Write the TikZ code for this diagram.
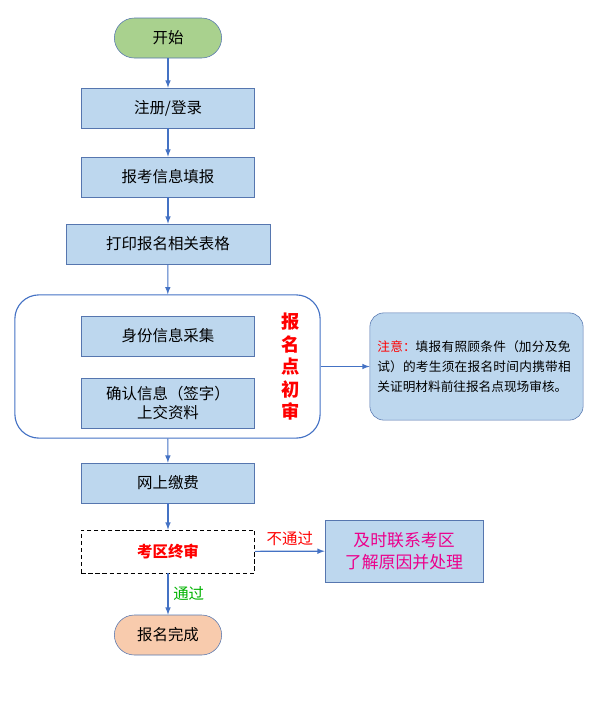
\documentclass[tikz,border=0pt]{standalone}
\usepackage{fontspec}
\setmainfont{Noto Sans CJK SC}
\XeTeXlinebreaklocale "zh"
\XeTeXlinebreakskip=0pt plus 1pt
\usetikzlibrary{positioning,arrows}
\definecolor{boxblue}{HTML}{BDD7EE}
\definecolor{lineblue}{HTML}{4472C4}
\definecolor{startgreen}{HTML}{A9D18E}
\definecolor{endorange}{HTML}{F8CBAD}
\tikzset{
  stepbox/.style={rectangle, draw=lineblue!70!gray, fill=boxblue,
    minimum width=4.33cm, minimum height=1cm, align=center, font=\fontsize{11}{13}\selectfont},
  pill/.style={rectangle, rounded corners=0.5cm, draw=lineblue!70!gray,
    minimum width=2.68cm, minimum height=1cm, font=\fontsize{11}{13}\selectfont},
  line/.style={draw=lineblue, thick, -latex},
}
\begin{document}
\begin{tikzpicture}[x=0.025cm,y=-0.025cm]
\useasboundingbox (0,0) rectangle (602,706);
% frame of the first check
\node[draw=lineblue, thick, rounded corners=0.6cm, minimum width=7.63cm,
  minimum height=3.58cm] (check) at (167.5,366.5) {};
% Place nodes
\node[pill, fill=startgreen] (start) at (168,38) {开始};
\node[stepbox] (login) at (168,108) {注册/登录};
\node[stepbox] (fill) at (168,177) {报考信息填报};
\node[stepbox, minimum width=5.1cm] (print) at (168,244) {打印报名相关表格};
\node[stepbox] (collect) at (168,336) {身份信息采集};
\node[stepbox, minimum height=1.25cm] (confirm) at (168,403) {确认信息（签字）\\上交资料};
\node[text=red, font=\bfseries\fontsize{13}{16}\selectfont, align=center] (firstcheck) at (291,367) {报\\名\\点\\初\\审};
\node[draw=lineblue!70!gray, fill=boxblue, rounded corners=0.35cm, minimum width=5.33cm,
  minimum height=2.68cm, text width=4.95cm, align=left, font=\fontsize{9}{14}\selectfont]
  (note) at (476.5,366.5) {\textcolor{red}{注意：}填报有照顾条件（加分及免试）的考生须在报名时间内携带相关证明材料前往报名点现场审核。};
\node[stepbox] (pay) at (168,483) {网上缴费};
\node[stepbox, fill=white, draw=black, densely dashed, minimum height=1.08cm,
  text=red, font=\bfseries\fontsize{11}{13}\selectfont] (final) at (168,551.5) {考区终审};
\node[stepbox, minimum width=3.95cm, minimum height=1.55cm, text=magenta,
  font=\fontsize{12}{16}\selectfont] (contact) at (404,551) {及时联系考区\\了解原因并处理};
\node[pill, fill=endorange] (done) at (168,635) {报名完成};
% Draw edges
\path[line] (start) -- (login);
\path[line] (login) -- (fill);
\path[line] (fill) -- (print);
\path[line] (print) -- (check);
\path[line] (check) -- (note);
\path[line] (check) -- (pay);
\path[line] (pay) -- (final);
\path[line] (final) -- node[above, text=red, font=\fontsize{11}{13}\selectfont] {不通过} (contact);
\path[line] (final) -- node[right, text=green!70!black, font=\fontsize{11}{13}\selectfont] {通过} (done);
\end{tikzpicture}
\end{document}
